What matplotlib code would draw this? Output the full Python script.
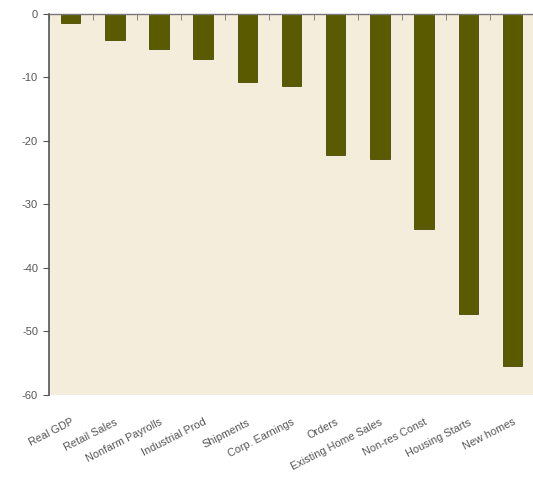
import numpy as np
import matplotlib.pyplot as plt

categories = ["Real GDP", "Retail Sales", "Nonfarm Payrolls", "Industrial Prod",
              "Shipments", "Corp. Earnings", "Orders", "Existing Home Sales",
              "Non-res Const", "Housing Starts", "New homes"]
values = [-1.4, -4.1, -5.5, -7.1, -10.8, -11.3, -22.2, -22.9, -33.9, -47.2, -55.4]

plt.rcParams['font.family'] = ['Liberation Sans', 'DejaVu Sans']
plt.rcParams['axes.unicode_minus'] = False

fig = plt.figure(figsize=(5.33, 4.93), dpi=100)
ax = fig.add_axes([0.091, 0.199, 0.912, 0.773])
ax.set_facecolor("#f4eddb")

x = np.arange(len(categories))
ax.bar(x, values, width=0.44, color="#5a5a00", edgecolor="#4a4a00", linewidth=0.6)

ax.set_xlim(-0.5, len(categories) - 0.5)
ax.set_ylim(-60, 0)
ax.set_yticks(np.arange(-60, 1, 10))

for s in ["bottom", "right"]:
    ax.spines[s].set_visible(False)
ax.spines["left"].set_color("#555555")
ax.spines["left"].set_linewidth(1.2)
ax.spines["top"].set_color("#777777")
ax.spines["top"].set_linewidth(1.0)

ax.set_xticks(x)
ax.set_xticklabels(categories, rotation=27, ha="right", rotation_mode="anchor")
ax.tick_params(axis="x", which="major", length=0, pad=16, labelsize=7.8, labelcolor="#555555")
ax.set_xticks(np.arange(-0.5, len(categories), 1.0), minor=True)
ax.tick_params(axis="x", which="minor", top=True, bottom=False, direction="in",
               length=4, color="#777777")
ax.tick_params(axis="y", length=4, color="#555555", labelsize=8, labelcolor="#555555")

fig.savefig("out.png", dpi=100)
